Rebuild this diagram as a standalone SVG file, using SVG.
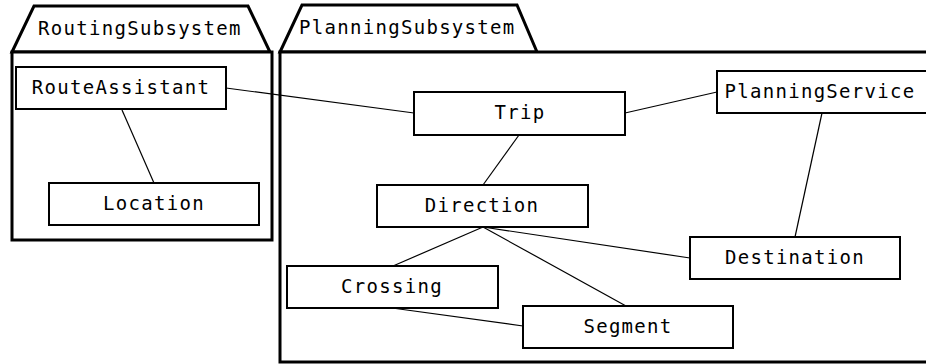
<svg xmlns="http://www.w3.org/2000/svg" width="926" height="364" viewBox="0 0 926 364">
<style>
.pkg{fill:#fff;stroke:#000;stroke-width:3}
.box{fill:#fff;stroke:#000;stroke-width:2}
.lbl{font-family:"DejaVu Sans Mono","Liberation Mono",monospace;font-size:19px;letter-spacing:1.3px;fill:#000}
.c{text-anchor:middle}
.edge{stroke:#000;stroke-width:1.2;fill:none}
</style>
<rect width="926" height="364" fill="#fff"/>
<g id="RoutingSubsystem">
<polygon class="pkg" points="12,52 34,6 248,6 270,52"/>
<rect class="pkg" x="12" y="52" width="260" height="188"/>
<text class="lbl" x="38" y="35">RoutingSubsystem</text>
</g>
<g id="PlanningSubsystem">
<polygon class="pkg" points="280,52 302,5 517,5 537,52"/>
<rect class="pkg" x="280" y="52" width="660" height="310"/>
<text class="lbl" x="299" y="34">PlanningSubsystem</text>
</g>
<g id="connectors">
<line class="edge" x1="226" y1="88" x2="414" y2="113"/>
<line class="edge" x1="122" y1="110" x2="154" y2="183"/>
<line class="edge" x1="625" y1="113" x2="717" y2="92"/>
<line class="edge" x1="519" y1="135" x2="483" y2="185"/>
<line class="edge" x1="822" y1="113" x2="795" y2="237"/>
<line class="edge" x1="483" y1="227" x2="393" y2="266"/>
<line class="edge" x1="483" y1="227" x2="626" y2="306"/>
<line class="edge" x1="483" y1="227" x2="690" y2="258"/>
<line class="edge" x1="392" y1="308" x2="523" y2="326"/>
</g>
<g id="RouteAssistant">
<rect class="box" x="16" y="67" width="210" height="42"/>
<text class="lbl c" x="121" y="94">RouteAssistant</text>
</g>
<g id="Location">
<rect class="box" x="49" y="183" width="210" height="42"/>
<text class="lbl c" x="154" y="210">Location</text>
</g>
<g id="Trip">
<rect class="box" x="414" y="92" width="211" height="43"/>
<text class="lbl c" x="520" y="119">Trip</text>
</g>
<g id="PlanningService">
<rect class="box" x="717" y="71" width="215" height="42"/>
<text class="lbl c" x="820" y="98">PlanningService</text>
</g>
<g id="Direction">
<rect class="box" x="377" y="185" width="211" height="42"/>
<text class="lbl c" x="482" y="212">Direction</text>
</g>
<g id="Destination">
<rect class="box" x="690" y="237" width="210" height="42"/>
<text class="lbl c" x="795" y="264">Destination</text>
</g>
<g id="Crossing">
<rect class="box" x="287" y="266" width="211" height="42"/>
<text class="lbl c" x="392" y="293">Crossing</text>
</g>
<g id="Segment">
<rect class="box" x="523" y="306" width="210" height="42"/>
<text class="lbl c" x="628" y="333">Segment</text>
</g>
</svg>
